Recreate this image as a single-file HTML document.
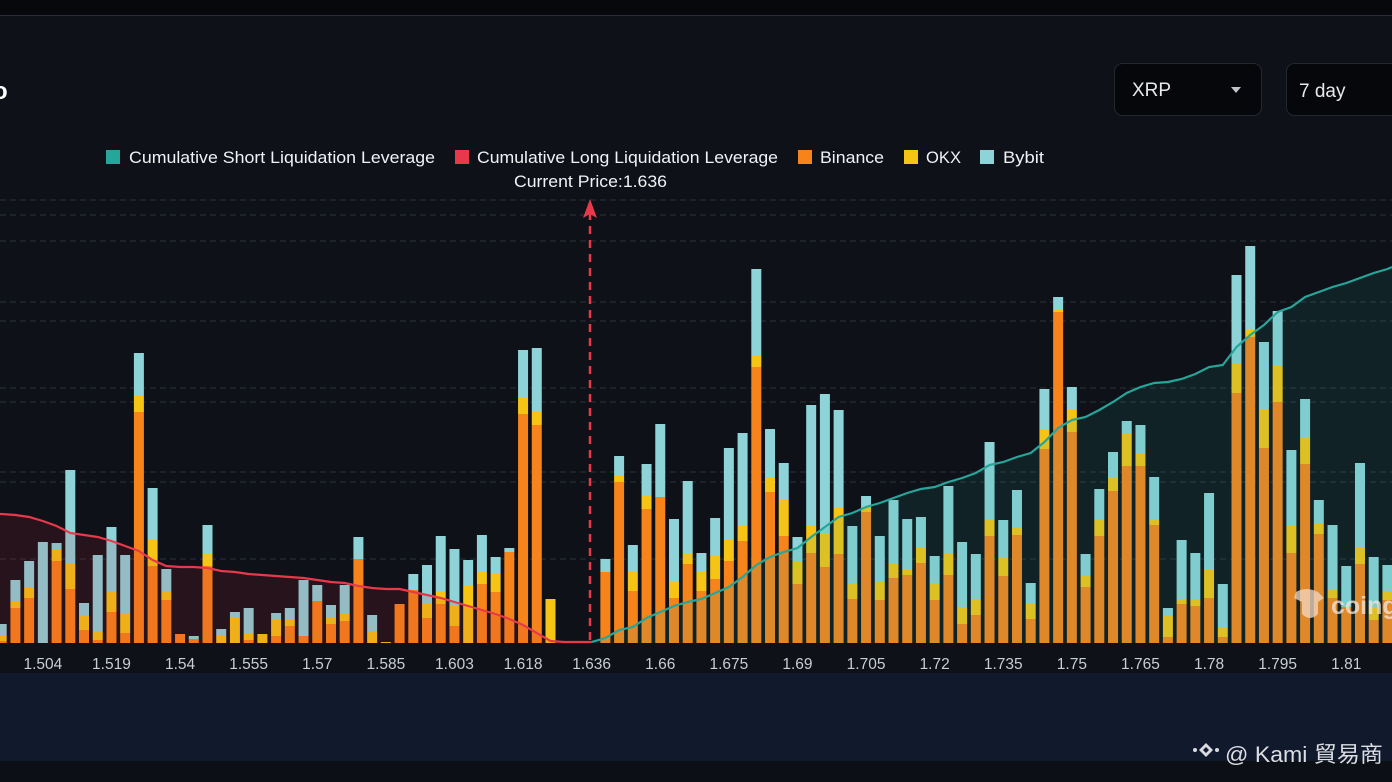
<!DOCTYPE html>
<html><head><meta charset="utf-8">
<style>
html,body{margin:0;padding:0;background:#0e1117;width:1392px;height:782px;overflow:hidden;font-family:"Liberation Sans",sans-serif;}
svg{display:block}
</style></head>
<body>
<svg id="chart" width="1392" height="782" viewBox="0 0 1392 782" xmlns="http://www.w3.org/2000/svg">
  <rect x="0" y="0" width="1392" height="15" fill="#06080b"/>
  <rect x="0" y="15" width="1392" height="1" fill="#2a2e36"/>
  <rect x="0" y="16" width="1392" height="657" fill="#0e1117"/>
  <rect x="0" y="673" width="1392" height="88" fill="#111a2c"/>
  <rect x="0" y="761" width="1392" height="21" fill="#0c0f15"/>
  <text x="-7" y="99" fill="#ffffff" font-size="24" font-weight="bold">o</text>

  <g>
    <rect x="1114.5" y="63.5" width="147" height="52" rx="8" fill="#05070b" stroke="#23272f"/>
    <text x="1132" y="96" fill="#e6e8ec" font-size="19">XRP</text>
    <path d="M1231 87 L1241 87 L1236 93 Z" fill="#bfc3ca"/>
  </g>
  <g>
    <rect x="1286.5" y="63.5" width="120" height="52" rx="8" fill="#05070b" stroke="#23272f"/>
    <text x="1299" y="97" fill="#e6e8ec" font-size="19">7 day</text>
  </g>

  <g id="legend" font-size="17" fill="#f0f2f5">
    <g><rect x="106" y="150" width="14" height="14" fill="#26a69a"/><text x="129" y="163" textLength="306" lengthAdjust="spacingAndGlyphs">Cumulative Short Liquidation Leverage</text></g>
    <g><rect x="455" y="150" width="14" height="14" fill="#e8394a"/><text x="477" y="163" textLength="301" lengthAdjust="spacingAndGlyphs">Cumulative Long Liquidation Leverage</text></g>
    <g><rect x="798" y="150" width="14" height="14" fill="#f7841a"/><text x="820" y="163" textLength="64" lengthAdjust="spacingAndGlyphs">Binance</text></g>
    <g><rect x="904" y="150" width="14" height="14" fill="#f5c414"/><text x="926" y="163" textLength="35" lengthAdjust="spacingAndGlyphs">OKX</text></g>
    <g><rect x="980" y="150" width="14" height="14" fill="#8dd3d8"/><text x="1003" y="163" textLength="41" lengthAdjust="spacingAndGlyphs">Bybit</text></g>
  </g>
  <text x="514" y="187" fill="#f0f2f5" font-size="16.5" textLength="153" lengthAdjust="spacingAndGlyphs">Current Price:1.636</text>

  <g id="grid"></g>
  <g id="bars"></g>
  <g id="areas"></g>
  <g id="xaxis"></g>

  <g>
    <line x1="590" y1="212" x2="590" y2="643" stroke="#e8394a" stroke-width="2.5" stroke-dasharray="8,6"/>
    <path d="M590 199 L597 218 L590 214 L583 218 Z" fill="#e8394a"/>
  </g>

  <g opacity="0.75">
    <path d="M1296 592 q10 -6 22 0 l6 6 -6 4 v12 q-8 8 -16 0 v-12 l-8 -4 z" fill="#f3d9c4"/>
    <text x="1331" y="614" fill="#f3e6dc" font-size="25" font-weight="bold">coing</text>
  </g>

  <g>
    <path d="M1206 743 l7 7 -7 7 -7 -7 z M1206 747 l3 3 -3 3 -3 -3 z" fill="#d9dbe0" fill-rule="evenodd"/>
    <circle cx="1195" cy="750" r="2" fill="#d9dbe0"/><circle cx="1217" cy="750" r="2" fill="#d9dbe0"/>
    <text x="1225" y="762" fill="#dcdee2" font-size="22" textLength="158" lengthAdjust="spacingAndGlyphs" font-family="'Liberation Sans','Noto Sans CJK TC',sans-serif">@ Kami 貿易商</text>
  </g>
</svg>
<script>
const binance=[2,35,45,0,82,54,13,3,31,10,231,77,43,9,4,77,0,0,3,0,7,17,7,42,19,22,84,0,0,39,53,25,39,17,0,59,51,91,229,218,0,0,0,0,
71,161,52,134,146,45,79,52,64,82,102,276,151,107,59,90,76,89,44,131,
43,65,68,80,43,68,19,28,107,67,108,24,194,331,211,56,107,152,177,177,
118,6,39,37,45,6,250,306,195,241,90,179,109,45,36,79,23,43];
const okx=[6,7,10,0,11,26,14,8,20,20,17,26,8,0,0,12,7,26,7,9,17,7,0,0,6,7,0,12,1,0,0,14,12,21,58,12,19,0,17,13,44,0,0,0,
0,7,19,13,0,17,10,20,23,22,15,12,14,37,22,28,33,46,16,5,
18,14,6,15,17,21,17,16,16,19,7,16,19,2,23,11,16,14,32,12,
5,21,5,6,28,10,29,7,39,36,27,27,10,9,0,17,13,9];
const bybit=[11,21,27,101,7,93,13,77,65,58,42,52,23,0,3,29,7,5,25,0,6,11,56,16,13,29,22,16,0,0,16,39,56,56,25,37,16,4,47,64,0,0,0,0,
13,19,27,32,73,62,73,18,38,91,93,86,49,36,25,120,140,98,57,11,
46,64,50,31,27,68,65,45,78,37,38,20,41,13,22,22,31,25,13,29,
43,8,59,47,77,43,89,84,67,55,76,38,24,64,41,84,50,26];
const longCum=[129,128,126,122,117,110,108,106,102,97,92,83,77,76,76,75,72,71,69,68,67,66,65,63,61,60,57,55,54,54,51,48,45,41,37,33,29,24,18,10,2,1,1,1];
const shortCum=[1,5,13,16,25,31,37,41,44,50,56,66,78,86,91,95,106,116,126,130,136,140,145,150,154,156,161,165,170,178,181,186,190,201,215,223,226,233,241,250,256,260,261,264,269,276,278,296,308,318,331,336,346,351,356,360,365,370,374];
const shortStart=43;
const tickLabels=["1.504","1.519","1.54","1.555","1.57","1.585","1.603","1.618","1.636","1.66","1.675","1.69","1.705","1.72","1.735","1.75","1.765","1.78","1.795","1.81"];
const tickEvery=5, tickOffset=3;

const NS="http://www.w3.org/2000/svg";
const X0=1.7, STEP=13.72, BASE=643, BW=10;
function xPos(i){return X0+STEP*i;}
function yPos(v){return BASE-v;}
function mk(tag,attrs,parent){const e=document.createElementNS(NS,tag);for(const k in attrs)e.setAttribute(k,attrs[k]);parent.appendChild(e);return e;}

const grid=document.getElementById('grid');
[200,215,241,302,321,388,402,472,482,559].forEach(y=>{
  const l=mk('line',{x1:0,x2:1392,y1:y,y2:y,stroke:'#2c313a','stroke-width':1,'stroke-dasharray':'6,4'},grid);
  
  
});

const bars=document.getElementById('bars');
const n=binance.length;
for(let i=0;i<n;i++){
  const x=xPos(i)-BW/2;
  let acc=0;
  [[binance[i],'#f7841a','binance'],[okx[i],'#f5c414','okx'],[bybit[i],'#8dd3d8','bybit']].forEach(([v,c,nm])=>{
    if(v<=0)return;
    const r=mk('rect',{x:x,y:yPos(acc+v),width:BW,height:v,fill:c},bars);
    
    
    acc+=v;
  });
}

const areas=document.getElementById('areas');
function pathFor(arr,start){return arr.map((v,k)=>(k?'L':'M')+xPos(start+k).toFixed(1)+' '+yPos(v).toFixed(1)).join(' ');}
let lp='M0 '+yPos(longCum[0])+' '+pathFor(longCum,0).replace(/^M/,'L');
const la=mk('path',{d:lp+' L'+xPos(longCum.length-1)+' '+BASE+' L0 '+BASE+' Z',fill:'rgba(200,40,60,0.13)'},areas);


const ll=mk('path',{d:lp,fill:'none',stroke:'#e8394a','stroke-width':2.2},areas);


let sp=pathFor(shortCum,shortStart)+' L1392 '+yPos(shortCum[shortCum.length-1]+2);
const sa=mk('path',{d:sp+' L1392 '+BASE+' L'+xPos(shortStart)+' '+BASE+' Z',fill:'rgba(38,166,154,0.12)'},areas);


const sl=mk('path',{d:sp,fill:'none',stroke:'#26a69a','stroke-width':2.2},areas);



const xa=document.getElementById('xaxis');
tickLabels.forEach((t,k)=>{
  const e=mk('text',{x:xPos(tickOffset+k*tickEvery),y:669,fill:'#c9cdd4','font-size':15.5,'text-anchor':'middle'},xa);
  e.textContent=t;
  
  
});
</script>
</body></html>
